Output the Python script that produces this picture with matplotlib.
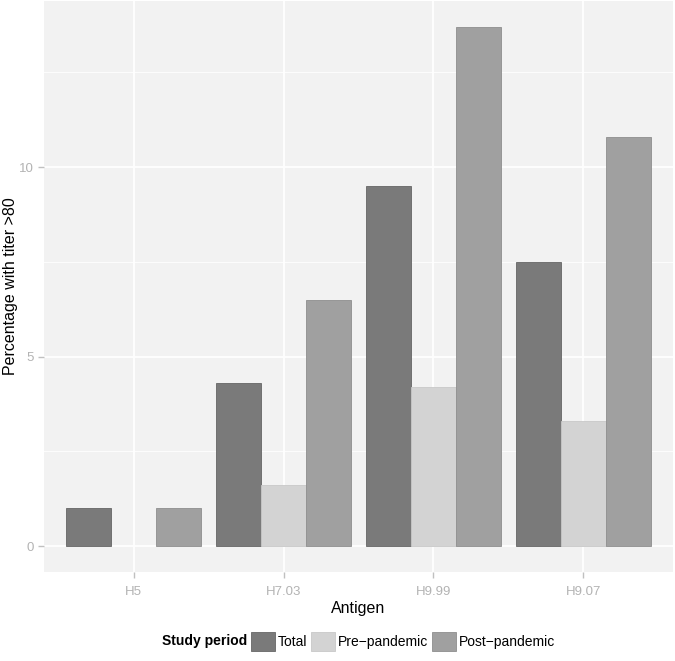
import numpy as np
import matplotlib
matplotlib.use('Agg')
import matplotlib.pyplot as plt
from matplotlib.patches import Patch

plt.rcParams['font.family'] = ['Liberation Sans', 'DejaVu Sans']

# data
antigens = ['H5', 'H7.03', 'H9.99', 'H9.07']
total = [1.0, 4.3, 9.5, 7.5]
pre_pandemic = [0.0, 1.6, 4.2, 3.3]
post_pandemic = [1.0, 6.5, 13.7, 10.8]
series_names = ['Total', 'Pre\u2212pandemic', 'Post\u2212pandemic']

fill_cols = ['#7a7a7a', '#d3d3d3', '#a0a0a0']
edge_cols = ['#666666', '#c8c8c8', '#8e8e8e']

fig = plt.figure(figsize=(6.75, 6.61), dpi=100)
ax = fig.add_axes([0.0652, 0.1346, 0.9318, 0.8639])
ax.set_facecolor('#f2f2f2')

x = np.arange(1, len(antigens) + 1)
w = 0.3
for i, vals in enumerate([total, pre_pandemic, post_pandemic]):
    vals = np.array(vals)
    # zero-height bars leave no visible outline in the original
    lws = np.where(vals > 0, 0.6, 0.0)
    ax.bar(x + (i - 1) * w, vals, width=w, color=fill_cols[i],
           edgecolor=edge_cols[i], linewidth=lws, zorder=3, label=series_names[i])

ax.set_xlim(0.4, 4.6)
ax.set_ylim(-0.685, 14.385)
ax.set_xticks(x)
ax.set_xticklabels(antigens)
ax.set_yticks([0, 5, 10])
ax.set_yticks([2.5, 7.5, 12.5], minor=True)

ax.grid(True, which='major', color='white', linewidth=1.3, zorder=0)
ax.grid(True, which='minor', axis='y', color='white', linewidth=0.6, zorder=0)
ax.set_axisbelow(True)
for s in ax.spines.values():
    s.set_visible(False)

ax.tick_params(axis='both', which='major', colors='#c0c0c0', labelcolor='#b3b3b3',
               labelsize=9.5, length=4, width=1)
ax.tick_params(axis='both', which='minor', length=0)
ax.tick_params(axis='x', pad=6)

ax.set_xlabel('Antigen', fontsize=11.5, labelpad=2)
ax.set_ylabel('Percentage with titer >80', fontsize=11.5, va='center')
ax.yaxis.set_label_coords(-0.054, 0.5)

handles = [Patch(facecolor=fill_cols[i], edgecolor=edge_cols[i], linewidth=0.6)
           for i in range(3)]
fig.text(0.24, 0.030, 'Study period', fontsize=10, fontweight='bold', va='center')
fig.legend(handles, series_names, ncol=3, loc='center left',
           bbox_to_anchor=(0.372, 0.030), frameon=False, fontsize=10,
           handlelength=1.7, handleheight=1.7, handletextpad=0.25,
           columnspacing=0.25, borderaxespad=0, borderpad=0)

fig.savefig('out.png', dpi=100)
